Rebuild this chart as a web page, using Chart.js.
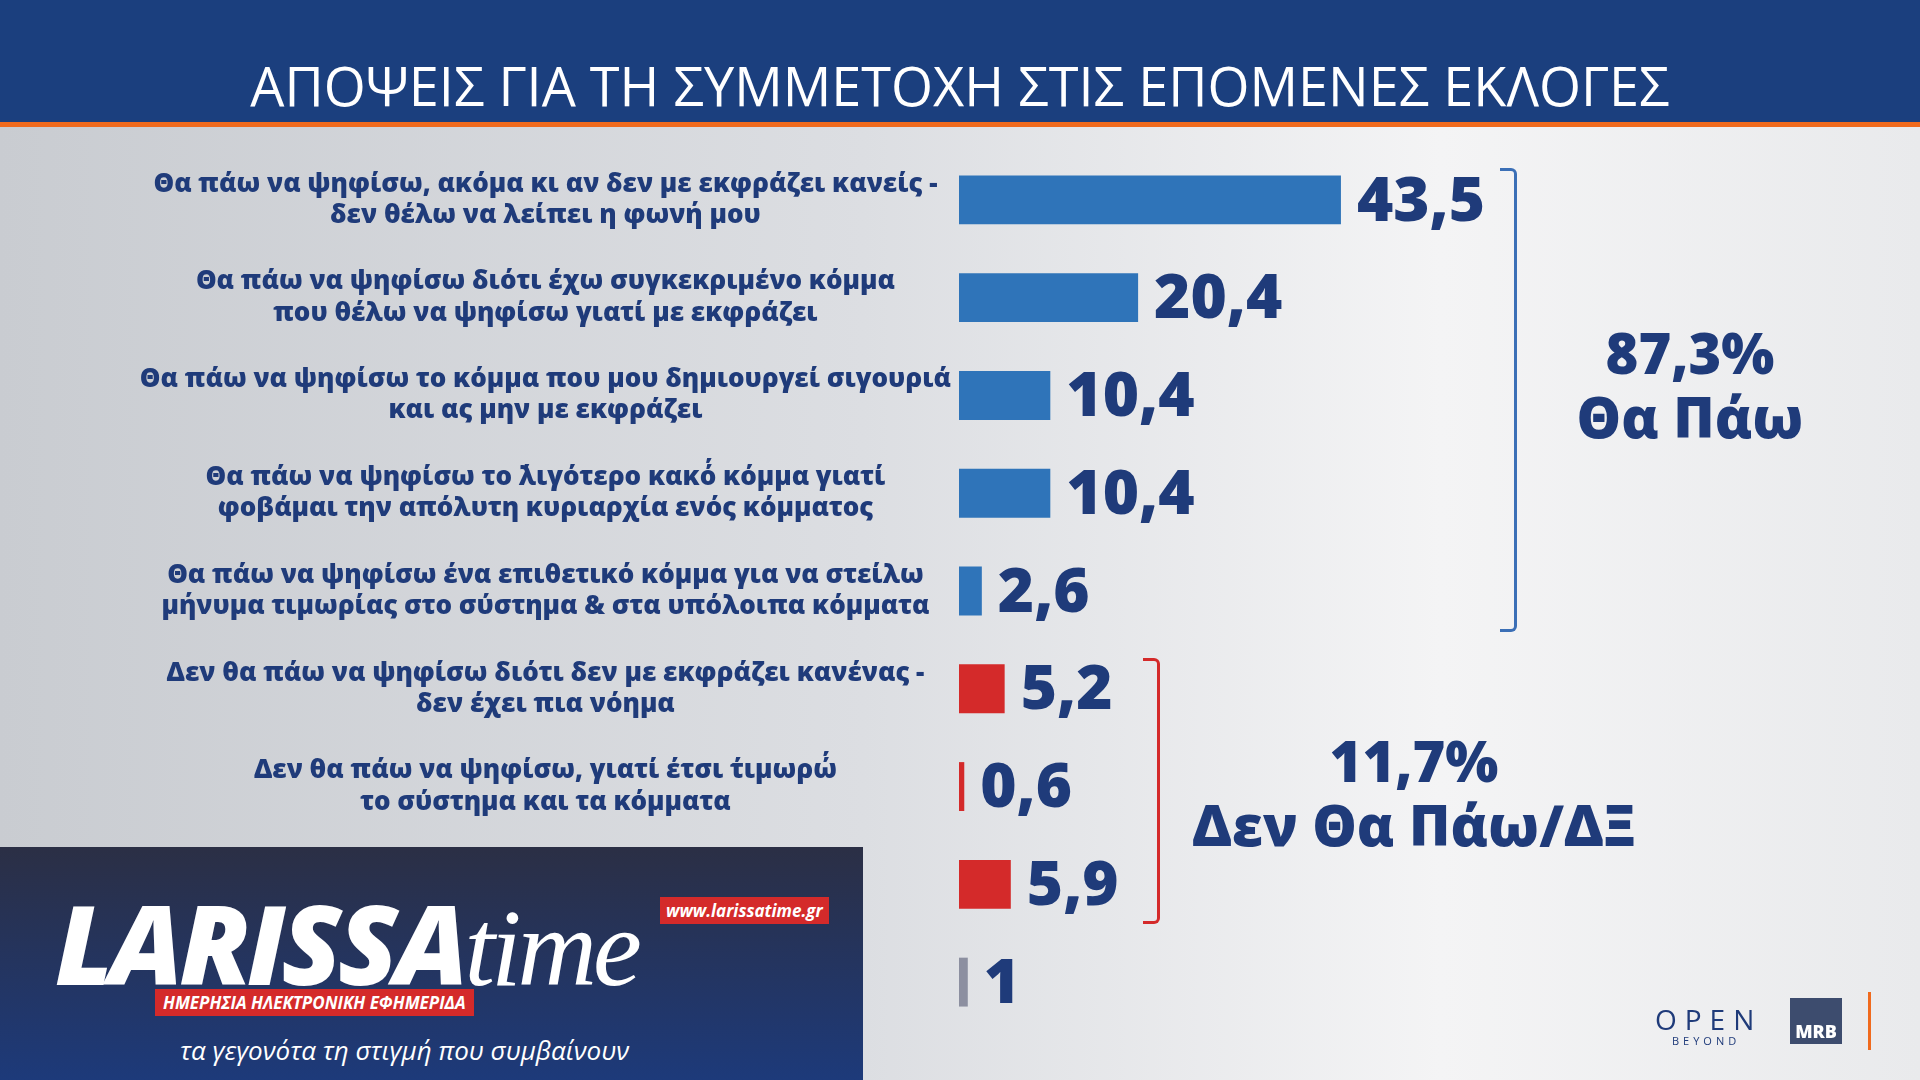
<!DOCTYPE html>
<html><head><meta charset="utf-8">
<script src="https://cdn.jsdelivr.net/npm/chart.js@4"></script>
<style>
body{margin:0;width:1920px;height:1080px;overflow:hidden;font-family:"Open Sans","Noto Sans",sans-serif;background:linear-gradient(90deg,#c9ccd1 0%,#dcdee2 45%,#f4f4f5 75%,#e9eaec 100%);position:relative}
#hdr{position:absolute;left:0;top:0;width:1920px;height:122px;background:#1b3f7e;border-bottom:5px solid #f06a1d;color:#fff;font-size:54px;text-align:center}
#hdr span{position:absolute;left:0;right:0;top:45px;line-height:80px}
canvas{position:absolute;left:0;top:0}
.br{position:absolute;border:3px solid;border-left:none;width:14px;border-radius:0 6px 6px 0}
.big{position:absolute;color:#1f3b7a;font-weight:800;text-align:center;font-size:56px;line-height:64px;transform:translateX(-50%);white-space:nowrap}
#logo{position:absolute;left:0;top:847px;width:863px;height:233px;background:linear-gradient(180deg,#2b2f45,#1d3a7a);color:#fff}
</style></head><body>
<div id="hdr"><span>ΑΠΟΨΕΙΣ ΓΙΑ ΤΗ ΣΥΜΜΕΤΟΧΗ ΣΤΙΣ ΕΠΟΜΕΝΕΣ ΕΚΛΟΓΕΣ</span></div>
<canvas id="c" width="1920" height="1080"></canvas>
<div class="br" style="left:1500px;top:168px;height:458px;border-color:#3b6fb6"></div>
<div class="br" style="left:1143px;top:658px;height:260px;border-color:#d42a2a"></div>
<div class="big" style="left:1690px;top:320px">87,3%<br>Θα Πάω</div>
<div class="big" style="left:1414px;top:728px">11,7%<br>Δεν Θα Πάω/ΔΞ</div>
<div style="position:absolute;left:1655px;top:1000px;color:#1f3b7a;font-size:28px;letter-spacing:8px">OPEN</div>
<div style="position:absolute;left:1672px;top:1033px;color:#1f3b7a;font-size:11px;letter-spacing:4px">BEYOND</div>
<div style="position:absolute;left:1790px;top:998px;width:52px;height:46px;background:#3d4c6e;color:#fff;font-weight:800;font-size:18px;text-align:center;line-height:66px">MRB</div>
<div style="position:absolute;left:1868px;top:992px;width:3px;height:58px;background:#f06a1d"></div>
<div id="logo">
 <div style="position:absolute;left:55px;top:40px;font-size:110px;font-weight:900;font-style:italic;letter-spacing:-4px;line-height:110px">LARISSA<span style="font-family:'Liberation Serif';font-weight:400">time</span></div>
 <div style="position:absolute;left:660px;top:50px;background:#d42a2a;font-size:17px;font-weight:700;font-style:italic;padding:2px 6px">www.larissatime.gr</div>
 <div style="position:absolute;left:155px;top:142px;background:#d42a2a;font-size:17px;font-weight:700;font-style:italic;padding:2px 8px">ΗΜΕΡΗΣΙΑ ΗΛΕΚΤΡΟΝΙΚΗ ΕΦΗΜΕΡΙΔΑ</div>
 <div style="position:absolute;left:180px;top:185px;font-size:26px;font-style:italic">τα γεγονότα τη στιγμή που συμβαίνουν</div>
</div>
<script>
const categories=[
["Θα πάω να ψηφίσω, ακόμα κι αν δεν με εκφράζει κανείς -","δεν θέλω να λείπει η φωνή μου"],
["Θα πάω να ψηφίσω διότι έχω συγκεκριμένο κόμμα","που θέλω να ψηφίσω γιατί με εκφράζει"],
["Θα πάω να ψηφίσω το κόμμα που μου δημιουργεί σιγουριά","και ας μην με εκφράζει"],
["Θα πάω να ψηφίσω το ΄λιγότερο κακό΄ κόμμα γιατί","φοβάμαι την απόλυτη κυριαρχία ενός κόμματος"],
["Θα πάω να ψηφίσω ένα επιθετικό κόμμα για να στείλω","μήνυμα τιμωρίας στο σύστημα & στα υπόλοιπα κόμματα"],
["Δεν θα πάω να ψηφίσω διότι δεν με εκφράζει κανένας -","δεν έχει πια νόημα"],
["Δεν θα πάω να ψηφίσω, γιατί έτσι ΄τιμωρώ΄","το σύστημα και τα κόμματα"],
["Δεν έχω αποφασίσει ακόμα"],
["ΔΞ/ΔΑ"]];
const values=[43.5,20.4,10.4,10.4,2.6,5.2,0.6,5.9,1];
const colors=["#2f74b9","#2f74b9","#2f74b9","#2f74b9","#2f74b9","#d42a2a","#d42a2a","#d42a2a","#8c8fa0"];
const valLabels={id:"vl",afterDatasetsDraw(ch){const ctx=ch.ctx;const m=ch.getDatasetMeta(0);ctx.save();ctx.font="800 62px 'Open Sans'";ctx.fillStyle="#1f3b7a";ctx.textBaseline="middle";
m.data.forEach((b,i)=>{ctx.fillText(values[i].toLocaleString('el-GR'),b.x+16,b.y+3);});ctx.restore();}};
new Chart(document.getElementById("c"),{type:"bar",
data:{labels:categories,datasets:[{data:values,backgroundColor:colors,categoryPercentage:1,barPercentage:0.5}]},
options:{indexAxis:"y",responsive:false,animation:false,
layout:{padding:{left:20,top:151,bottom:49,right:83}},
plugins:{legend:{display:false},tooltip:{enabled:false}},
scales:{x:{min:0,max:100,display:false},
y:{grid:{display:false},border:{display:false},afterFit(s){s.width=939;},
ticks:{crossAlign:"center",color:"#1f3b7a",font:{family:"Open Sans",weight:800,size:26,lineHeight:1.2},padding:0}}}},
plugins:[valLabels]});
</script></body></html>
